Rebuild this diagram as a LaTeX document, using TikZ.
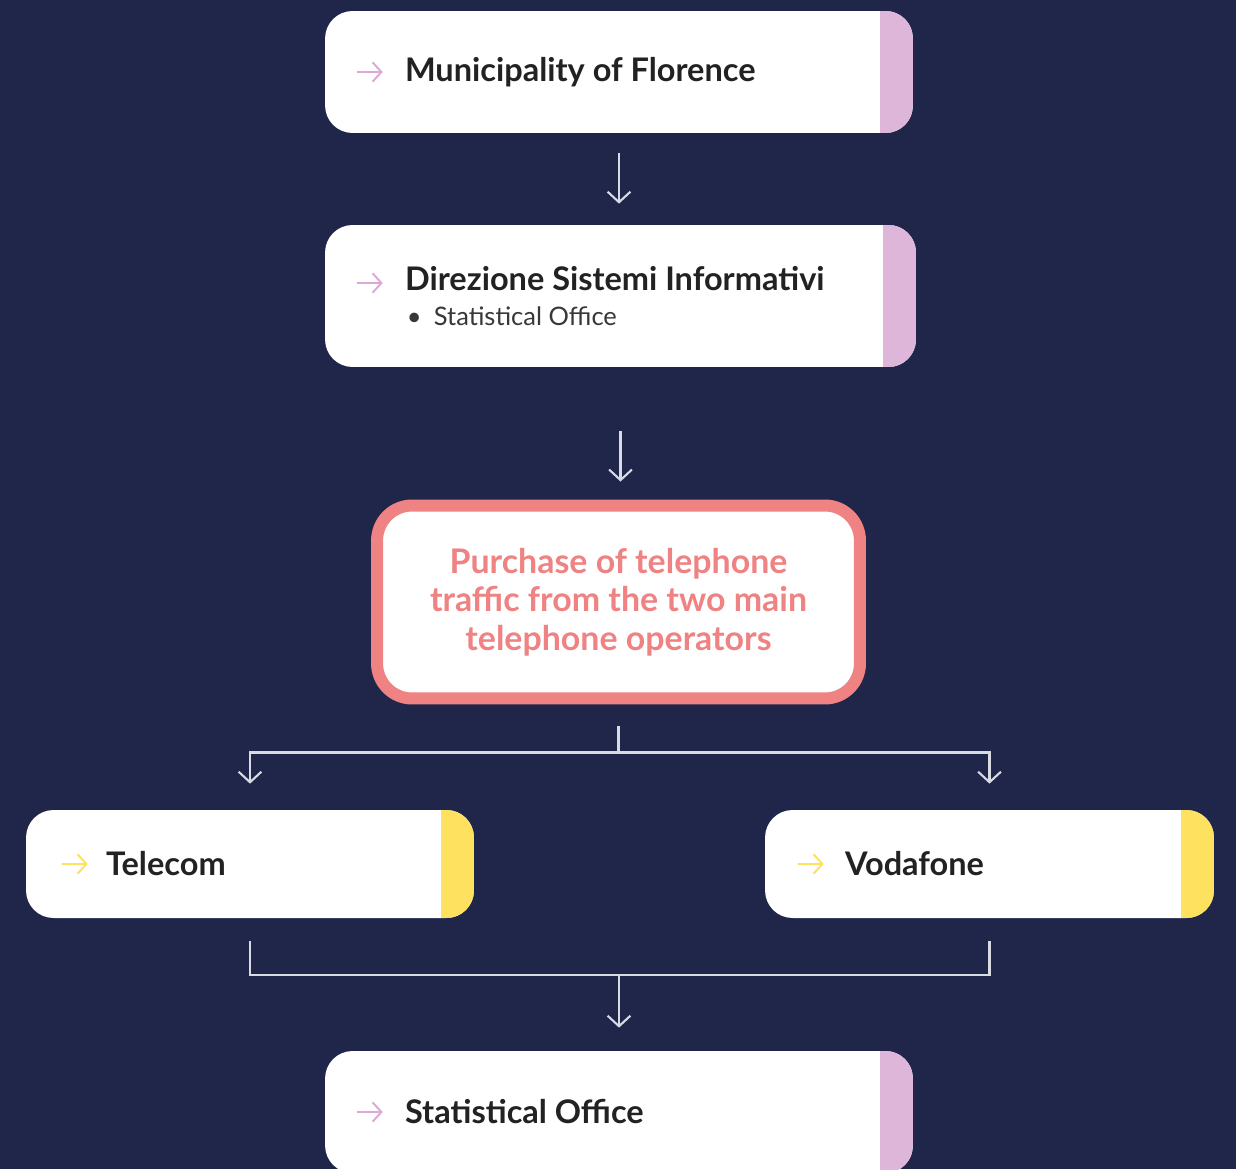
\documentclass[tikz,border=0pt]{standalone}
\usepackage{fontspec}
\setmainfont{Lato}
\usetikzlibrary{calc,arrows.meta,positioning}
\definecolor{navy}{RGB}{31,38,73}
\definecolor{lilac}{RGB}{221,182,217}
\definecolor{lilacarr}{RGB}{222,168,214}
\definecolor{sun}{RGB}{253,225,95}
\definecolor{salmon}{RGB}{239,130,130}
\definecolor{wire}{RGB}{216,218,228}
\definecolor{ink}{RGB}{34,34,34}

\begin{document}
\begin{tikzpicture}[x=0.02cm,y=-0.02cm,
        box/.style={rectangle,rounded corners=0.55cm,fill=white,inner xsep=1.6cm,inner ysep=0pt,
            align=flush left,text=ink,font=\fontsize{18.5}{22}\selectfont\bfseries},
        strip/.style={path picture={\fill[#1,sharp corners] ([xshift=-0.66cm]path picture bounding box.north east)
            rectangle (path picture bounding box.south east);}},
        flow/.style={draw=wire,line width=1.2pt,-{Straight Barb[length=6pt,width=13pt]}},
        wireline/.style={draw=wire,line width=1.2pt},
        pointer/.style={line width=1.1pt,-{Straight Barb[length=5pt,width=11pt]}}]
        \fill[navy] (0,0) rectangle (1236,1169);
        \useasboundingbox (0,0) rectangle (1236,1169);
        %\draw[very thin,color=gray] (0,0) grid[step=1cm] (1236,1169);
        \node[box,strip=lilac,text width=8.56cm,minimum height=2.44cm] (mun) at (619,72) {Municipality of Florence};
        \node[box,strip=lilac,text width=8.62cm,minimum height=2.84cm] (dir) at (620.5,296)
            {Direzione Sistemi Informativi\\[-2pt]
             {\fontsize{14.5}{16}\selectfont\mdseries\color{ink!90}\hspace{1pt}\textbullet\hspace{7pt}Statistical Office}};
        \node[rectangle,rounded corners=0.7cm,fill=white,draw=salmon,line width=0.24cm,
            minimum width=9.66cm,minimum height=3.86cm,align=center,text=salmon,
            font=\fontsize{19.3}{21.8}\selectfont\bfseries] (purch) at (618.5,602)
            {Purchase of telephone\\traffic from the two main\\telephone operators};
        \node[box,strip=sun,text width=5.76cm,minimum height=2.16cm] (tel) at (250,864) {Telecom};
        \node[box,strip=sun,text width=5.78cm,minimum height=2.16cm] (vod) at (989.5,864) {Vodafone};
        \node[box,strip=lilac,text width=8.56cm,minimum height=2.44cm] (stat) at (619,1112) {Statistical Office};

        \draw[pointer,lilacarr] ($(mun.west)+(32,0)$) -- ++(26,0);
        \draw[pointer,lilacarr] ($(dir.west)+(32,-13)$) -- ++(26,0);
        \draw[pointer,sun] ($(tel.west)+(36,0)$) -- ++(26,0);
        \draw[pointer,sun] ($(vod.west)+(33,0)$) -- ++(26,0);
        \draw[pointer,lilacarr] ($(stat.west)+(32,0)$) -- ++(26,0);

        \draw[flow,shorten <=0.4cm,shorten >=0.42cm] (mun.south) -- (mun.south |- dir.north);
        \draw[flow,shorten <=1.28cm,shorten >=0.36cm] (dir.south) -- (dir.south |- purch.north);
        \draw[wireline,shorten <=0.44cm] (purch.south) -- ++(0,48) coordinate (split);
        \draw[flow,shorten >=0.52cm] (split) -| (tel.north);
        \draw[flow,shorten >=0.52cm] (split) -| (vod.north);
        \draw[wireline,shorten <=0.46cm,shorten >=0.46cm] (tel.south) -- ++(0,57) coordinate (merge) -| (vod.south);
        \draw[flow,shorten >=0.46cm] (merge -| stat.north) -- (stat.north);
\end{tikzpicture}
\end{document}
